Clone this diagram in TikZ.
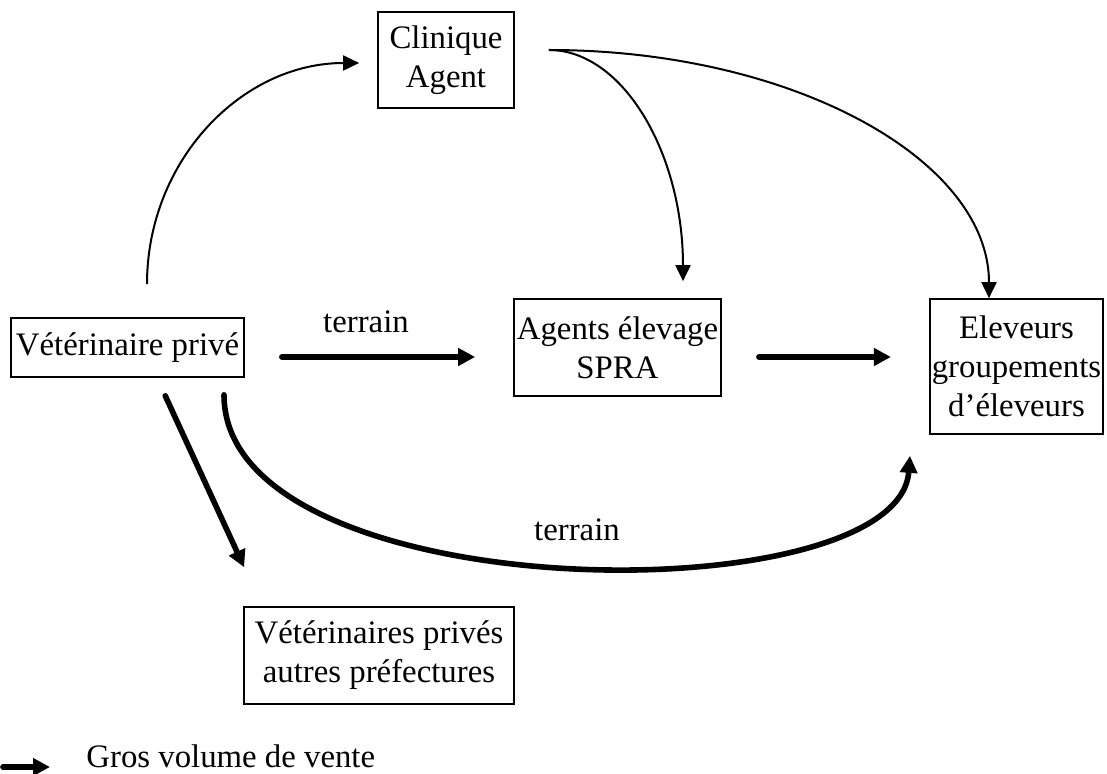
\documentclass[tikz,border=0pt]{standalone}
\usepackage{fontspec}
\setmainfont{Liberation Serif}
\usepackage{tikz}
\usetikzlibrary{arrows.meta,positioning}
\tikzset{
  box/.style     = {draw, line width=0.85pt, align=center, inner sep=1pt,
                    font=\fontsize{16.4}{19.5}\selectfont},
  lab/.style     = {inner sep=0pt, font=\fontsize{16.4}{19.5}\selectfont},
  thinarr/.style = {-{Triangle[length=8pt,width=7.5pt]}, line width=1pt},
  bigarr/.style  = {-{Triangle[length=8.5pt,width=8.5pt]}, line width=2.8pt,
                    line cap=round},
}

\begin{document}
\begin{tikzpicture}[x=0.5pt,y=-0.5pt]
\useasboundingbox (0,0) rectangle (1107,774);
\node[box, minimum width=68pt, minimum height=48pt] (clinique) at (446,60) {Clinique\\Agent};
\node[box, minimum width=116.5pt, minimum height=29.5pt] (vet) at (127.5,347.5) {Vétérinaire privé};
\node[box, minimum width=103.5pt, minimum height=48.5pt] (agents) at (617.5,347.5) {Agents élevage\\SPRA};
\node[box, minimum width=85.5pt, minimum height=67.5pt] (eleveurs) at (1016.5,366.5) {Eleveurs\\groupements\\d’éleveurs};
\node[box, minimum width=135pt, minimum height=48.5pt] (autres) at (379,655.5) {Vétérinaires privés\\autres préfectures};

\node[lab] (terrain1) at (366,322) {terrain};
\node[lab] (terrain2) at (577,530) {terrain};

% thin arrows
\draw[thinarr] ([xshift=9.75pt,yshift=16.5pt]vet.north) .. controls +(0,-123) and +(-118,0) .. ([xshift=-9pt,yshift=-1.5pt]clinique.west);
\draw[thinarr] ([xshift=17pt,yshift=5pt]clinique.east) .. controls +(74,0) and +(0,-128) .. ([xshift=32.75pt,yshift=8.5pt]agents.north);
\draw[thinarr] ([xshift=17pt,yshift=5pt]clinique.east) .. controls +(243,0) and +(0,-139) .. ([xshift=-13.75pt]eleveurs.north);

% gros volume
\draw[bigarr, shorten <=18.5pt, shorten >=19pt] ([yshift=-4.75pt]vet.east) -- ([yshift=-4.75pt]agents.west);
\draw[bigarr, shorten <=18.5pt, shorten >=19pt] ([yshift=-4.75pt]agents.east) -- ([yshift=4.75pt]eleveurs.west);
\draw[bigarr, shorten <=9.9pt, shorten >=21.4pt] ([xshift=14.75pt]vet.south) -- ([xshift=-58.5pt]autres.north);
\draw[bigarr] ([xshift=48.25pt,yshift=-8.5pt]vet.south) .. controls +(0,216) and +(-12,160) .. ([xshift=-9.5pt,yshift=-10.5pt]eleveurs.south west);

% legende
\node[lab, anchor=west] (legende) at (86,756) {Gros volume de vente};
\coordinate (legdebut) at (3,767);
\draw[bigarr, shorten >=18pt] (legdebut) -- (legdebut -| legende.west);
\end{tikzpicture}
\end{document}
